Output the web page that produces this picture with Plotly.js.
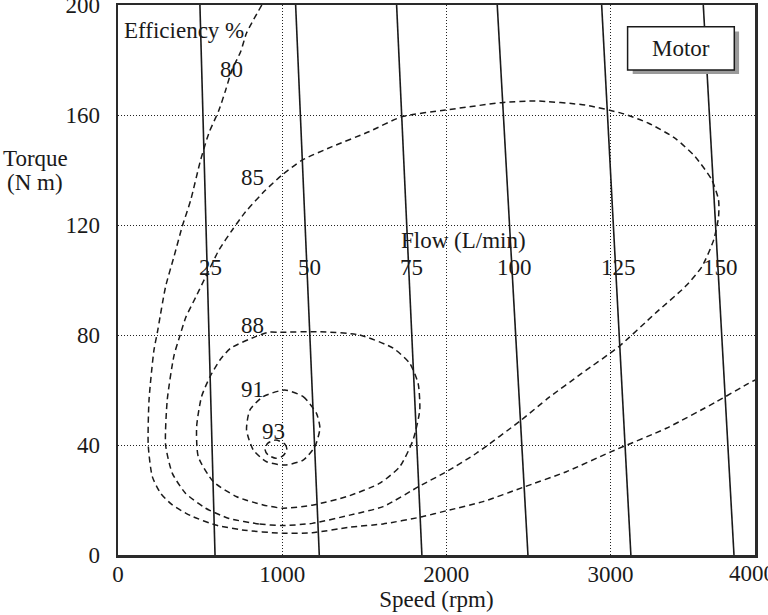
<!DOCTYPE html>
<html>
<head>
<meta charset="utf-8">
<script src="https://cdn.plot.ly/plotly-3.0.1.min.js"></script>
<style>
  html, body { margin: 0; padding: 0; background: #fff; }
  #chart { width: 768px; height: 615px; }
</style>
</head>
<body>
<div id="chart"></div>
<script>
// ---------------- DATA ----------------
// Axis ticks
const speedTicks = [0, 1000, 2000, 3000, 4000];
const torqueTicks = [0, 40, 80, 120, 160, 200];

// Constant-flow lines (L/min): speed (rpm) at torque 0 and at torque 200 N m
const flowValues = [25, 50, 75, 100, 125, 150];
const flowSpeedAtT0 = [591, 1226, 1851, 2497, 3124, 3752];
const flowSpeedAtT200 = [499, 1082, 1697, 2310, 2946, 3565];
const flowTorqueEnds = [0, 200];

// Efficiency contours (%)
const effLevels = [80, 85, 88, 91, 93];

const eff80Speed = [876, 783, 747, 694, 656, 615, 554, 503, 443, 391, 341, 290, 239, 219, 189, 184, 209, 260, 331, 443, 595, 757, 1000, 1183, 1412, 1615, 1852, 2001, 2223, 2467, 2731, 3001, 3340, 3644, 3841, 3900];
const eff80Torque = [200, 189.8, 183.0, 176.4, 169.1, 161.8, 153.5, 143.6, 129.1, 119.4, 108.5, 97.6, 80.7, 74.5, 56.4, 40.0, 28.5, 22.4, 18.2, 14.3, 10.9, 9.1, 7.9, 8.1, 10.1, 11.3, 13.9, 16.1, 19.4, 24.6, 30.3, 37.5, 46.1, 55.7, 62.4, 64.2];

// closed loop, starting and ending on the flat bottom
const eff85Speed = [1000, 858, 676, 534, 412, 331, 290, 300, 341, 376, 412, 473, 544, 615, 696, 777, 899, 1000, 1122, 1304, 1528, 1730, 1995, 2339, 2542, 2847, 3069, 3232, 3394, 3516, 3617, 3658, 3658, 3628, 3556, 3455, 3273, 3049, 2826, 2623, 2457, 2183, 2001, 1838, 1615, 1412, 1183, 1000];
const eff85Torque = [10.7, 11.3, 13.3, 17.0, 22.4, 29.7, 40.0, 56.4, 72.5, 79.5, 86.3, 93.7, 102.4, 110.9, 118.2, 124.8, 132.7, 138.2, 143.6, 148.5, 153.9, 159.4, 161.8, 164.5, 165.1, 163.6, 160.6, 157.0, 151.5, 144.8, 136.4, 129.1, 123.0, 114.5, 104.8, 97.6, 87.9, 75.7, 66.1, 57.2, 49.1, 37.0, 30.3, 25.1, 17.6, 14.5, 11.5, 10.7];

const eff88Speed = [1230, 1473, 1676, 1777, 1828, 1838, 1797, 1716, 1595, 1392, 1189, 1006, 884, 723, 580, 489, 479, 509, 560, 621, 686, 838, 919, 986, 1230];
const eff88Torque = [81.2, 80.0, 75.2, 69.7, 62.4, 52.7, 41.8, 32.1, 26.1, 21.2, 18.2, 17.0, 18.2, 21.2, 26.7, 35.7, 46.7, 57.6, 64.8, 70.9, 75.2, 79.4, 81.0, 81.0, 81.2];

const eff91Speed = [1016, 1128, 1209, 1230, 1199, 1128, 1016, 905, 824, 783, 803, 884, 1016];
const eff91Torque = [60.0, 57.6, 51.5, 46.1, 39.4, 34.5, 32.7, 33.9, 38.2, 45.5, 52.7, 57.6, 60.0];

const eff93Speed = [962, 1016, 1029, 1004, 962, 913, 895, 913, 962];
const eff93Torque = [41.8, 40.4, 38.2, 36.0, 35.2, 36.4, 38.5, 40.7, 41.8];

// ---------------- STYLE / LAYOUT ----------------
const FONT = "'Liberation Serif', 'Times New Roman', serif";
const INK = '#1a1a1a';
const X_MAX = 3880;
const FS = 23;

const traces = [];

// flow lines
flowValues.forEach((q, i) => {
  traces.push({
    type: 'scatter', mode: 'lines',
    x: [flowSpeedAtT0[i], flowSpeedAtT200[i]],
    y: flowTorqueEnds,
    line: { color: INK, width: 1.6 },
    hoverinfo: 'skip', showlegend: false
  });
});

// efficiency contours
const effSpeed = [eff80Speed, eff85Speed, eff88Speed, eff91Speed, eff93Speed];
const effTorque = [eff80Torque, eff85Torque, eff88Torque, eff91Torque, eff93Torque];
effLevels.forEach((lv, i) => {
  traces.push({
    type: 'scatter', mode: 'lines',
    x: effSpeed[i], y: effTorque[i],
    line: { color: INK, width: 1.5, dash: '6px,4px', shape: 'spline', smoothing: 0.6 },
    hoverinfo: 'skip', showlegend: false
  });
});

const annotations = [];
const txt = (size) => ({ family: FONT, size: size, color: INK });

// flow labels, placed on their lines
const flowLabelTorque = 104.4;
flowValues.forEach((q, i) => {
  const x = flowSpeedAtT0[i] + (flowSpeedAtT200[i] - flowSpeedAtT0[i]) * flowLabelTorque / 200;
  annotations.push({ x: x, y: flowLabelTorque, xref: 'x', yref: 'y', text: String(q),
    showarrow: false, font: txt(FS), xshift: 3, xanchor: 'center', yanchor: 'middle' });
});
annotations.push({ x: 2103, y: 114.5, xref: 'x', yref: 'y', text: 'Flow (L/min)',
  showarrow: false, font: txt(FS), xanchor: 'center', yanchor: 'middle' });

// efficiency labels
const effLabelX = [694, 822, 820, 817, 945];
const effLabelY = [176.4, 137.2, 83.6, 60.3, 44.8];
effLevels.forEach((lv, i) => {
  annotations.push({ x: effLabelX[i], y: effLabelY[i], xref: 'x', yref: 'y', text: String(lv),
    showarrow: false, font: txt(FS), xanchor: 'center', yanchor: 'middle' });
});
annotations.push({ x: 0.103, y: 0.9545, xref: 'paper', yref: 'paper', text: 'Efficiency %',
  showarrow: false, font: txt(FS), xanchor: 'center', yanchor: 'middle' });

// Motor box text
annotations.push({ x: 0.884, y: 0.9218, xref: 'paper', yref: 'paper', text: 'Motor',
  showarrow: false, font: txt(FS), xanchor: 'center', yanchor: 'middle' });

// y axis title (two lines)
annotations.push({ x: -0.129, y: 0.7218, xref: 'paper', yref: 'paper', text: 'Torque',
  showarrow: false, font: txt(FS), xanchor: 'center', yanchor: 'middle' });
annotations.push({ x: -0.1302, y: 0.6764, xref: 'paper', yref: 'paper', text: '(N m)',
  showarrow: false, font: txt(FS), xanchor: 'center', yanchor: 'middle' });

// x tick labels beyond the plotted frame (cut by the page edge, as in the original)
speedTicks.filter(v => v > X_MAX).forEach(v => {
  annotations.push({ x: 0.9906, y: -0.0345, xref: 'paper', yref: 'paper', text: String(v),
    showarrow: false, font: txt(FS), xanchor: 'left', xshift: -22, yanchor: 'middle' });
});

const shapes = [
  { type: 'rect', xref: 'paper', yref: 'paper', x0: 0.808, x1: 0.975, y0: 0.8745, y1: 0.952,
    fillcolor: '#9a9a9a', line: { width: 0 }, layer: 'above' },
  { type: 'rect', xref: 'paper', yref: 'paper', x0: 0.800, x1: 0.9675, y0: 0.8818, y1: 0.9605,
    fillcolor: '#ffffff', line: { color: INK, width: 1.5 }, layer: 'above' }
];

const layout = {
  width: 768, height: 615,
  margin: { l: 118, r: 13, t: 5, b: 60 },
  paper_bgcolor: '#ffffff', plot_bgcolor: '#ffffff',
  showlegend: false, hovermode: false,
  font: { family: FONT, size: FS, color: INK },
  xaxis: {
    range: [0, X_MAX], autorange: false,
    tickvals: speedTicks.filter(v => v <= X_MAX),
    ticktext: speedTicks.filter(v => v <= X_MAX).map(String),
    ticks: '', showgrid: true, griddash: '1px,2px', gridcolor: '#222', gridwidth: 1,
    zeroline: false, showline: true, mirror: true, linecolor: '#2a2a2a', linewidth: 2.5,
    tickfont: { family: FONT, size: FS, color: INK },
    ticklabelstandoff: -3,
    title: { text: 'Speed (rpm)', font: { family: FONT, size: FS, color: INK }, standoff: 0 },
    automargin: false
  },
  yaxis: {
    range: [0, 200], autorange: false,
    tickvals: torqueTicks, ticktext: torqueTicks.map(String),
    ticks: '', showgrid: true, griddash: '1px,2px', gridcolor: '#222', gridwidth: 1,
    zeroline: false, showline: true, mirror: true, linecolor: '#2a2a2a', linewidth: 2.5,
    tickfont: { family: FONT, size: FS, color: INK },
    ticklabelstandoff: 11, ticklabeloverflow: 'allow',
    automargin: false
  },
  annotations: annotations,
  shapes: shapes
};

Plotly.newPlot('chart', traces, layout, { displayModeBar: false, staticPlot: true });
</script>
</body>
</html>
